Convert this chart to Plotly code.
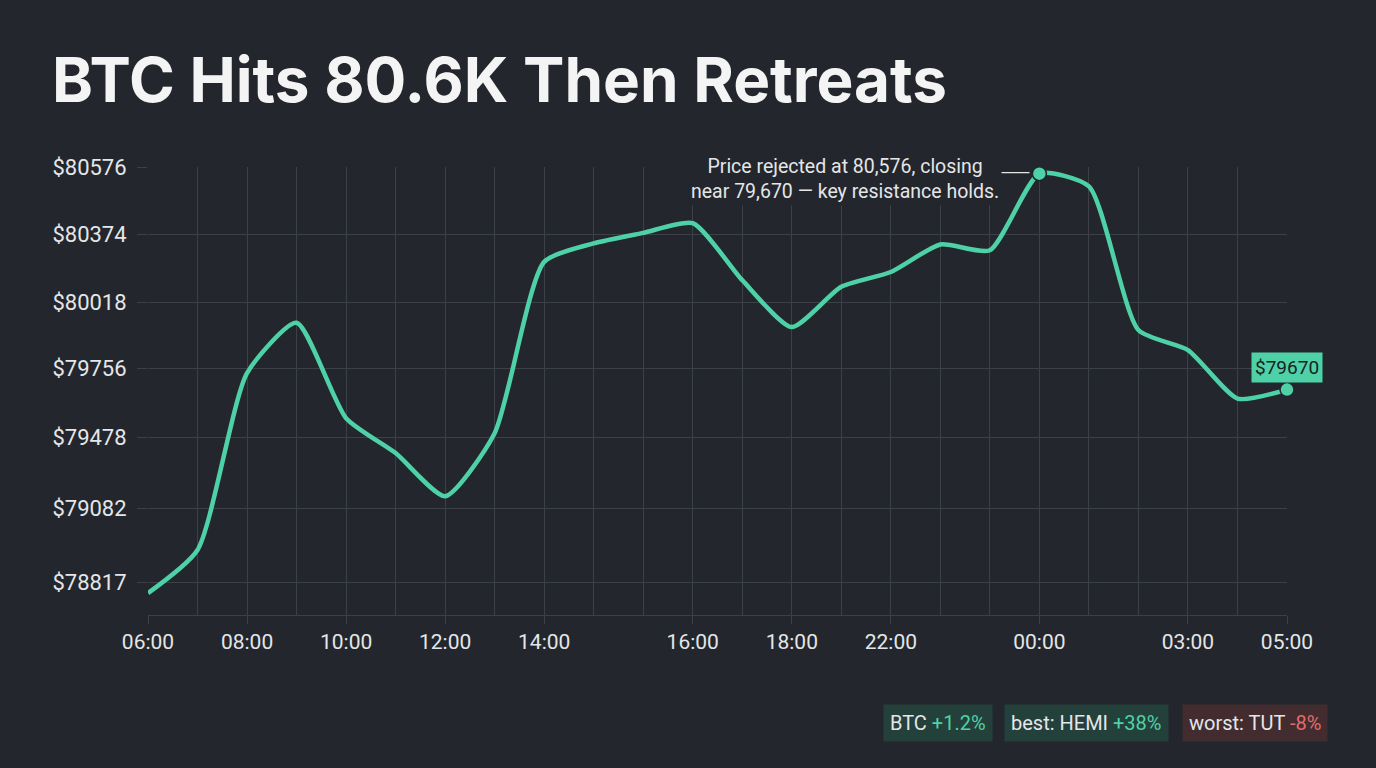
"""
BTC sur 24 h : montée jusqu'à 80,6K puis repli.
"""
import numpy as np
import plotly.graph_objects as go

# Heures (24 points, une colonne par heure)
hours = ["06:00", "07:00", "08:00", "09:00", "10:00", "11:00", "12:00",
         "13:00", "14:00", "15:00", "16:00", "17:00", "18:00", "19:00",
         "20:00", "21:00", "22:00", "23:00", "00:00", "01:00", "02:00",
         "03:00", "04:00", "05:00"]
# Libellés affichés sous l'axe (tels quels dans l'original)
x_labels = {0: "06:00", 2: "08:00", 4: "10:00", 6: "12:00", 8: "14:00",
            11: "16:00", 13: "18:00", 15: "22:00", 18: "00:00",
            21: "03:00", 23: "05:00"}
# Prix BTC (USD)
prices = [78777, 78933, 79736, 79937, 79555, 79391, 79152, 79495, 80231,
          80328, 80379, 80408, 80135, 79920, 80100, 80178, 80322, 80292,
          80556, 80518, 79908, 79828, 79634, 79670]
# Graduations de l'axe des prix
y_ticks = [78817, 79082, 79478, 79756, 80018, 80374, 80576]
# Pastilles de résumé
badges = [("BTC", "+1.2%", "up"), ("best: HEMI", "+38%", "up"),
          ("worst: TUT", "-8%", "down")]

# Couleurs
BG = "#23262c"
GRID = "#3c4047"
TEAL = "#4fd1a7"
TEXT = "#e4e6e8"
RED = "#e36a6a"

# Écarts (px) entre graduations : l'axe n'est pas linéaire en prix
tick_gaps = [73.3, 71.4, 69.3, 65.7, 68.0, 67.6]
tick_pos = np.concatenate([[0], np.cumsum(tick_gaps)])


def to_axis(p):
    """Position sur l'axe vertical (interpolation par morceaux)."""
    p = np.asarray(p, dtype=float)
    pos = np.interp(p, y_ticks, tick_pos)
    # prolongement sous la première graduation
    slope0 = tick_gaps[0] / (y_ticks[1] - y_ticks[0])
    return np.where(p < y_ticks[0], (p - y_ticks[0]) * slope0, pos)


x = np.arange(len(hours))
y = to_axis(prices)
peak = int(np.argmax(prices))
last = len(prices) - 1

fig = go.Figure()
fig.add_trace(go.Scatter(x=x, y=y, mode="lines",
                         line=dict(color=TEAL, width=4.5, shape="spline",
                                   smoothing=0.6),
                         hoverinfo="skip", showlegend=False))
fig.add_trace(go.Scatter(x=[peak, last], y=y[[peak, last]], mode="markers",
                         marker=dict(color=TEAL, size=14,
                                     line=dict(color=BG, width=1.5)),
                         cliponaxis=False, hoverinfo="skip",
                         showlegend=False))

# Trait de rappel vers le sommet
fig.add_shape(type="line", x0=peak - 1.0, x1=peak - 0.2,
              y0=y[peak] + 1, y1=y[peak] + 1,
              line=dict(color=TEXT, width=1.2), layer="above")

# Commentaire (fond opaque pour masquer la grille)
fig.add_annotation(xref="paper", yref="paper", x=0.612, y=0.974,
                   xanchor="center", yanchor="middle", showarrow=False,
                   text="Price rejected at 80,576, closing<br>"
                        "near 79,670 — key resistance holds.",
                   font=dict(size=19.5, color=TEXT), bgcolor=BG, borderpad=2)

# Étiquette de la dernière valeur
fig.add_annotation(x=last, y=y[last], yshift=22, showarrow=False,
                   text=f"${prices[last]}",
                   font=dict(size=19, color="#15231f"), bgcolor=TEAL,
                   borderpad=3)

# Pastilles en bas à droite
badge_x = [0.694, 0.8244, 0.9715]
for (label, value, trend), bx in zip(badges, badge_x):
    color = TEAL if trend == "up" else RED
    fill = "#24403a" if trend == "up" else "#432c2f"
    fig.add_annotation(xref="paper", yref="paper", x=bx, y=-0.24,
                       xanchor="center", yanchor="middle", showarrow=False,
                       text=f"{label} <span style='color:{color}'>{value}</span>",
                       font=dict(size=20, color=TEXT), bgcolor=fill,
                       borderpad=6)

fig.update_xaxes(range=[0, last], tickvals=list(x_labels.keys()),
                 ticktext=list(x_labels.values()), showgrid=True,
                 gridcolor=GRID, gridwidth=1, ticks="outside", ticklen=8,
                 tickcolor=GRID, showline=True, linecolor=GRID,
                 tickfont=dict(size=21, color=TEXT), zeroline=False,
                 minor=dict(dtick=1, tick0=0, showgrid=True, gridcolor=GRID,
                            gridwidth=1, ticks=""))
fig.update_yaxes(range=[-33, tick_pos[-1]], tickvals=tick_pos,
                 ticktext=[f"${t}" for t in y_ticks], showgrid=True,
                 gridcolor=GRID, gridwidth=1, ticks="outside", ticklen=10,
                 tickcolor=GRID, zeroline=False, showline=False,
                 tickfont=dict(size=22, color=TEXT), ticklabelstandoff=6)

fig.update_layout(width=1376, height=768, paper_bgcolor=BG, plot_bgcolor=BG,
                  margin=dict(l=148, r=89, t=167, b=153),
                  font=dict(family="Roboto, Inter, sans-serif", color=TEXT),
                  title=dict(text="<b>BTC Hits 80.6K Then Retreats</b>",
                             x=52 / 1376, xanchor="left", xref="container",
                             y=1 - 80 / 768, yanchor="middle",
                             yref="container",
                             font=dict(family="Inter, Roboto, sans-serif",
                                       size=62, color="#f4f4f4")))

# Page sans marge pour que la figure occupe toute la fenêtre
fig.write_html("out.html", config=dict(displayModeBar=False),
               post_script="document.body.style.margin='0';"
                           f"document.body.style.background='{BG}';")
